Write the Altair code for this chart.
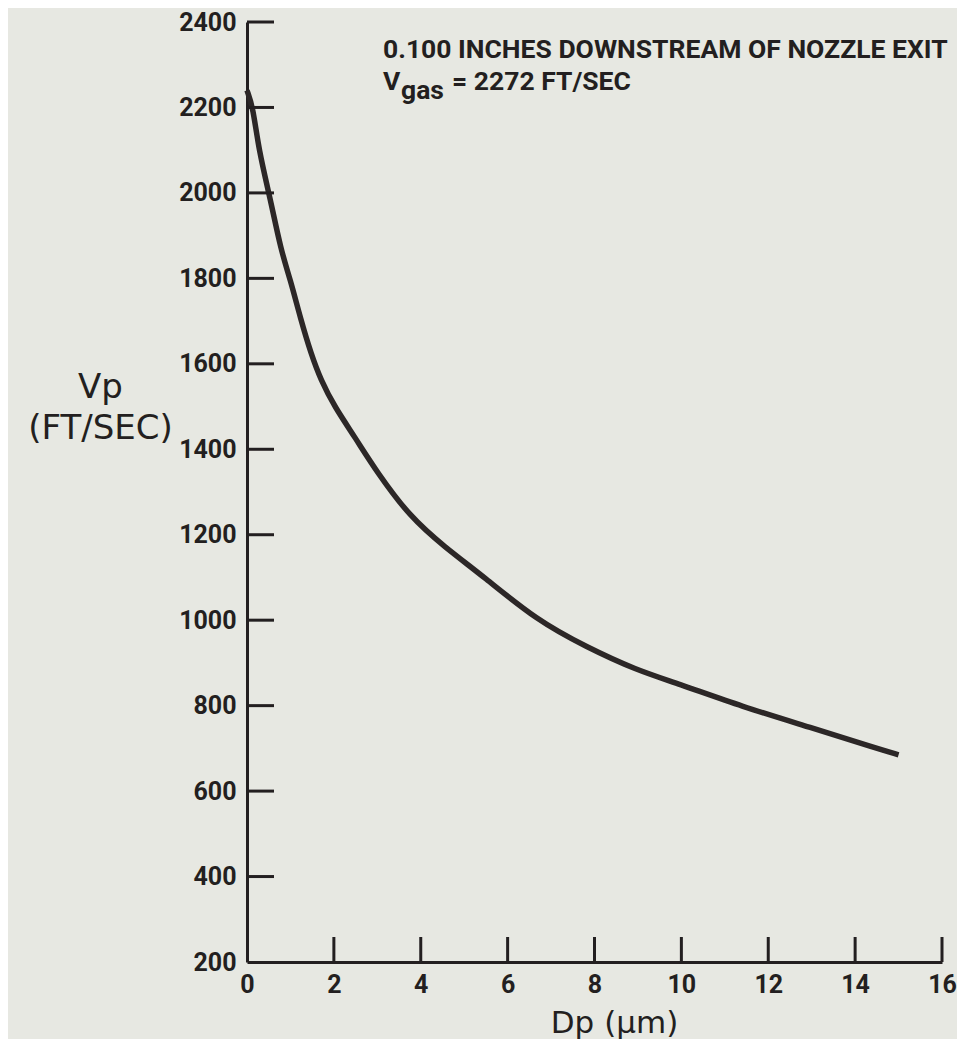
import altair as alt
import pandas as pd

# particle diameter (um) and particle velocity (ft/sec)
dp = [0.0, 0.14, 0.27, 0.54, 0.78, 0.99, 1.24, 1.47, 1.70, 2.02, 2.48, 3.0, 3.76,
      4.54, 5.46, 6.67, 7.82, 8.97, 9.89, 11.42, 12.94, 14.47, 15.0]
vp = [2240, 2200, 2100, 1985, 1866, 1800, 1703, 1625, 1562, 1499, 1429, 1345, 1241,
      1172, 1101, 1000, 937, 883, 853, 797, 750, 701, 685]

x_ticks = [0, 2, 4, 6, 8, 10, 12, 14, 16]
y_ticks = [200, 400, 600, 800, 1000, 1200, 1400, 1600, 1800, 2000, 2200, 2400]

note_line1 = ["0.100 INCHES DOWNSTREAM OF NOZZLE EXIT"]
note_v = ["V"]
note_sub = ["gas"]
note_rest = ["= 2272 FT/SEC"]

LABEL_FONT = "Roboto"
TITLE_FONT = "DejaVu Sans"
INK = "#231f20"
BG = "#e7e8e2"

W, H = 695, 940
LEFT = 239

xs = alt.Scale(domain=[0, 16], nice=False, zero=False)
ys = alt.Scale(domain=[200, 2400], nice=False, zero=False)

x_axis = alt.Axis(
    values=x_ticks, format="d", ticks=False, grid=False,
    domainColor=INK, domainWidth=3,
    labelFont=LABEL_FONT, labelFontSize=25, labelFontWeight="bold", labelColor=INK,
    labelPadding=10, labelBaseline="top", labelFlush=False, labelOverlap=False,
    title="Dp (μm)", titleFont=TITLE_FONT, titleFontSize=31, titleFontWeight="normal",
    titleColor=INK, titleX=367, titleY=70, titleAlign="center", titleBaseline="alphabetic",
)
y_axis = alt.Axis(
    values=y_ticks, format="d", ticks=False, grid=False,
    domainColor=INK, domainWidth=3,
    labelFont=LABEL_FONT, labelFontSize=25, labelFontWeight="bold", labelColor=INK,
    labelPadding=11, labelFlush=False, labelOverlap=False,
    title=["Vp", "(FT/SEC)"], titleFont=TITLE_FONT, titleFontSize=34,
    titleFontWeight="normal", titleColor=INK, titleAngle=0, titleAlign="center",
    titleBaseline="alphabetic", titleX=-147, titleY=375, titleLineHeight=41,
)

df = pd.DataFrame({"dp": dp, "vp": vp})

curve = alt.Chart(df).mark_line(
    color="#2c2727", strokeWidth=5.5, interpolate="basis", strokeCap="butt"
).encode(
    x=alt.X("dp:Q", scale=xs, axis=x_axis),
    y=alt.Y("vp:Q", scale=ys, axis=y_axis),
)

xt = alt.Chart(pd.DataFrame({"dp": x_ticks[1:]})).mark_rule(color=INK, strokeWidth=3).encode(
    x=alt.X("dp:Q", scale=xs, axis=x_axis),
    y=alt.value(H - 25),
    y2=alt.value(H),
)

yt = alt.Chart(pd.DataFrame({"vp": y_ticks[1:]})).mark_rule(color=INK, strokeWidth=3).encode(
    y=alt.Y("vp:Q", scale=ys, axis=y_axis),
    x=alt.value(0),
    x2=alt.value(27),
)

def note(lst, x, y, size):
    return alt.Chart(pd.DataFrame({"s": lst})).mark_text(
        font=LABEL_FONT, fontSize=size, fontWeight="bold", color=INK,
        align="left", baseline="alphabetic"
    ).encode(text="s:N", x=alt.value(x), y=alt.value(y))

n1 = note(note_line1, 136, 36, 26.5)
n2 = note(note_v, 136, 68, 26.5)
n3 = note(note_sub, 154, 77, 26.5)
n4 = note(note_rest, 205, 68, 26.5)

chart = alt.layer(curve, xt, yt, n1, n2, n3, n4).properties(
    width=W, height=H,
    autosize=alt.AutoSizeParams(type="none"),
    padding={"left": LEFT, "top": 14, "right": 15, "bottom": 77},
    background=BG,
).configure_view(stroke=None)

chart.save("out.html", embed_options={"renderer": "svg", "actions": False})
